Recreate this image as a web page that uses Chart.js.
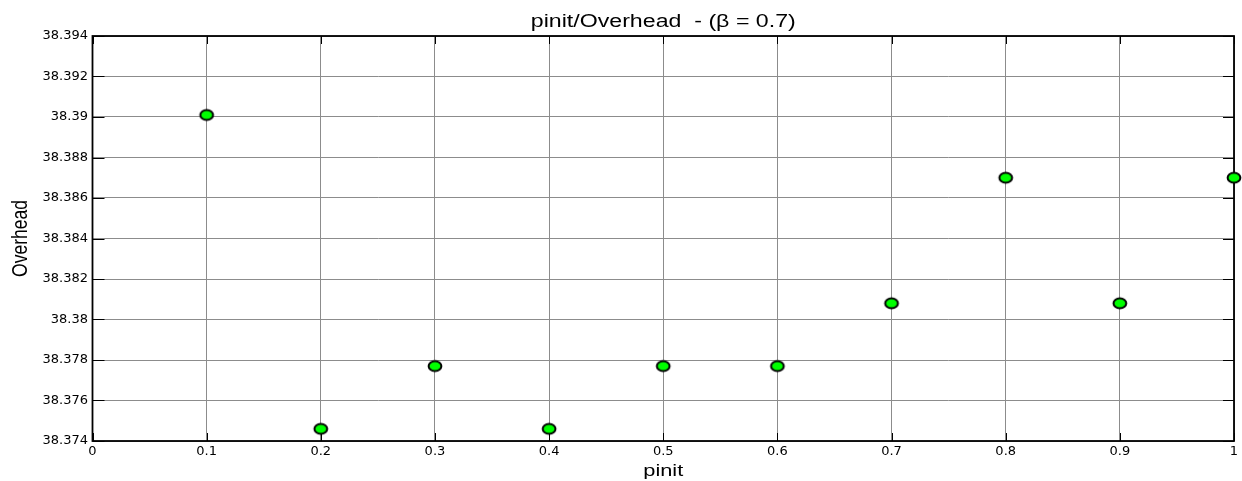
<!DOCTYPE html>
<html>
<head>
<meta charset="utf-8">
<script src="https://cdn.jsdelivr.net/npm/chart.js@4.4.1/dist/chart.umd.min.js"></script>
<style>
  html, body { margin: 0; padding: 0; background: #ffffff; }
  #wrap { width: 1242px; height: 481px; }
</style>
</head>
<body>
<div id="wrap"><canvas id="chart" width="1242" height="481"></canvas></div>
<script>
// pinit values and the measured overhead for each
const pinitValues = [0.1, 0.2, 0.3, 0.4, 0.5, 0.6, 0.7, 0.8, 0.9, 1.0];
const overheadValues = [38.3901, 38.3746, 38.3777, 38.3746, 38.3777, 38.3777, 38.3808, 38.3870, 38.3808, 38.3870];

// axis settings
const xRange = [0, 1];
const xStep = 0.1;
const yRange = [38.374, 38.394];
const yStep = 0.002;

const titleText = 'pinit/Overhead  - (\u03B2 = 0.7)';
const xLabelText = 'pinit';
const yLabelText = 'Overhead';

// green filled ellipse marker with black outline
function makeMarker() {
  const c = document.createElement('canvas');
  c.width = 18; c.height = 15;
  const g = c.getContext('2d');
  g.beginPath();
  g.ellipse(9, 7.5, 6.4, 4.9, 0, 0, Math.PI * 2);
  g.fillStyle = '#00ff00';
  g.fill();
  g.lineWidth = 2;
  g.strokeStyle = '#000000';
  g.stroke();
  return c;
}

// horizontal scale factor that brings a text to the given width
function stretchedText(ctx, text, font, targetWidth) {
  ctx.font = font;
  const w = ctx.measureText(text).width;
  return targetWidth / w;
}

const frameAndLabels = {
  id: 'frameAndLabels',
  beforeDatasetsDraw(chart) {
    const { ctx, chartArea: a, scales } = chart;
    ctx.save();
    ctx.strokeStyle = '#000000';
    ctx.lineWidth = 1;
    // inward tick marks on all four sides
    scales.x.ticks.forEach(t => {
      const px = Math.round(scales.x.getPixelForValue(t.value)) + 0.5;
      ctx.beginPath();
      ctx.moveTo(px, a.bottom); ctx.lineTo(px, a.bottom - 8);
      ctx.moveTo(px, a.top); ctx.lineTo(px, a.top + 8);
      ctx.stroke();
    });
    scales.y.ticks.forEach(t => {
      const py = Math.round(scales.y.getPixelForValue(t.value)) + 0.5;
      ctx.beginPath();
      ctx.moveTo(a.left, py); ctx.lineTo(a.left + 12, py);
      ctx.moveTo(a.right, py); ctx.lineTo(a.right - 11, py);
      ctx.stroke();
    });
    // axes box
    ctx.lineWidth = 1.8;
    ctx.strokeRect(a.left, a.top, a.right - a.left, a.bottom - a.top);
    ctx.restore();
  },
  afterDraw(chart) {
    const { ctx, chartArea: a } = chart;
    const cx = (a.left + a.right) / 2;
    ctx.save();
    ctx.fillStyle = '#000000';
    ctx.textAlign = 'center';
    ctx.textBaseline = 'alphabetic';

    // title
    let font = '17.5px "Liberation Sans", Arial, sans-serif';
    let s = stretchedText(ctx, titleText, font, 265);
    ctx.save();
    ctx.translate(cx, 26.5);
    ctx.scale(s, 1);
    ctx.fillText(titleText, 0, 0);
    ctx.restore();

    // x axis label
    font = '16.5px "Liberation Sans", Arial, sans-serif';
    s = stretchedText(ctx, xLabelText, font, 40);
    ctx.save();
    ctx.translate(cx, 476);
    ctx.scale(s, 1);
    ctx.fillText(xLabelText, 0, 0);
    ctx.restore();

    // y axis label (rotated, glyphs widened along the screen x direction)
    font = '17.5px "Liberation Sans", Arial, sans-serif';
    ctx.font = font;
    const yw = ctx.measureText(yLabelText).width;
    ctx.save();
    ctx.translate(26.5, (a.top + a.bottom) / 2);
    ctx.rotate(-Math.PI / 2);
    ctx.scale(77 / yw, 1.3);
    ctx.fillText(yLabelText, 0, 0);
    ctx.restore();

    ctx.restore();
  }
};

const points = pinitValues.map((x, i) => ({ x: x, y: overheadValues[i] }));

new Chart(document.getElementById('chart'), {
  type: 'scatter',
  data: {
    datasets: [{
      data: points,
      pointStyle: makeMarker(),
      pointRadius: 7,
      pointHoverRadius: 7,
      clip: false
    }]
  },
  options: {
    responsive: false,
    devicePixelRatio: 1,
    animation: false,
    events: [],
    layout: { padding: { left: 0, top: 36, right: 4.5, bottom: 0 } },
    plugins: {
      legend: { display: false },
      title: { display: false },
      tooltip: { enabled: false }
    },
    scales: {
      x: {
        type: 'linear',
        min: xRange[0],
        max: xRange[1],
        afterFit(scale) { scale.height = 40; },
        ticks: {
          stepSize: xStep,
          padding: 3,
          color: '#000000',
          font: { family: '"DejaVu Sans", sans-serif', size: 13 },
          maxRotation: 0,
          autoSkip: false,
          callback: v => String(Number(v.toFixed(1)))
        },
        grid: { color: '#8c8c8c', lineWidth: 1, drawTicks: false },
        border: { display: false }
      },
      y: {
        type: 'linear',
        min: yRange[0],
        max: yRange[1],
        afterFit(scale) { scale.width = 92.5; },
        ticks: {
          stepSize: yStep,
          padding: 4.5,
          color: '#000000',
          font: { family: '"DejaVu Sans", sans-serif', size: 13 },
          autoSkip: false,
          callback: v => String(Number(v.toFixed(3)))
        },
        grid: { color: '#8c8c8c', lineWidth: 1, drawTicks: false },
        border: { display: false }
      }
    }
  },
  plugins: [frameAndLabels]
});
</script>
</body>
</html>
